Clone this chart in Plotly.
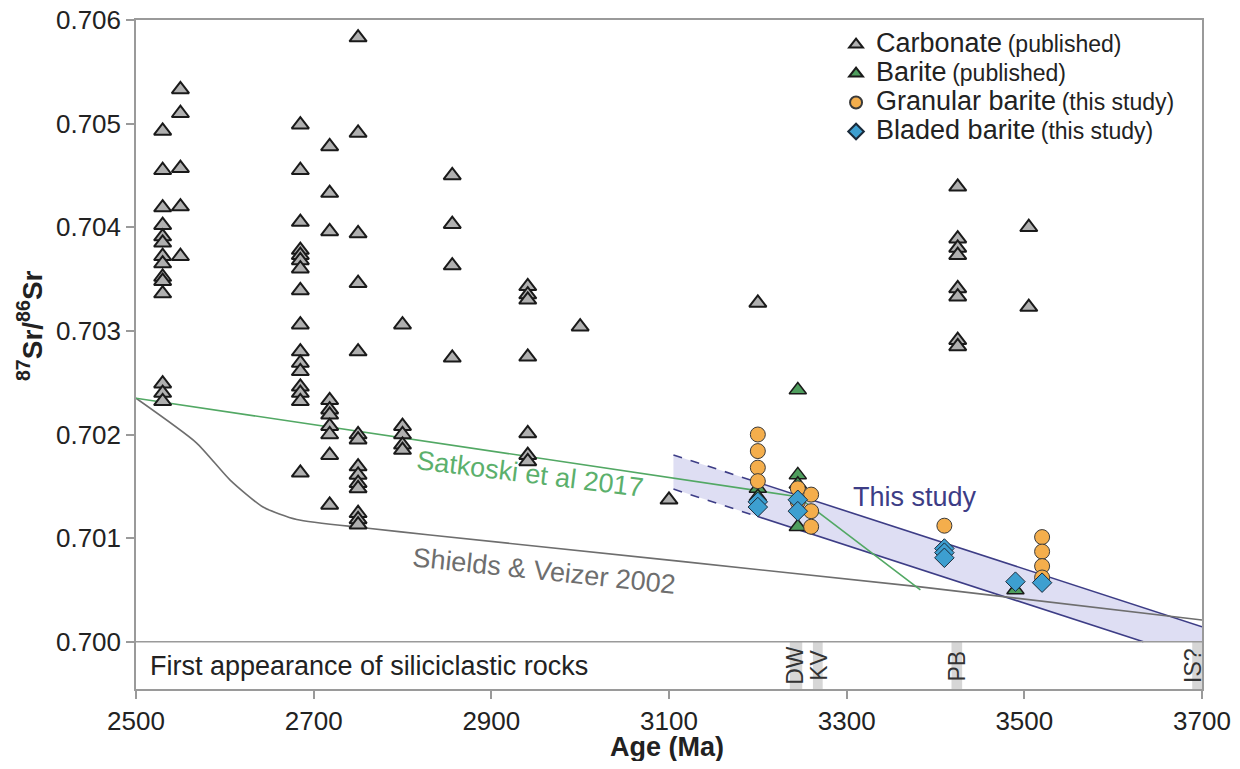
import plotly.graph_objects as go

# ---------------- data ----------------
carb_age = ([2530]*14 + [2550]*5 + [2685]*16 + [2718]*10 + [2750]*14 + [2800]*5 +
            [2856]*4 + [2941]*7 + [3000, 3100, 3200] + [3425]*8 + [3505]*2)
carb_sr = [0.70493, 0.70455, 0.70419, 0.70402, 0.70391, 0.70385, 0.70372, 0.70365, 0.70352, 0.70348, 0.70336, 0.70249, 0.70240, 0.70232,
           0.70533, 0.70510, 0.70457, 0.70420, 0.70372,
           0.70499, 0.70455, 0.70405, 0.70378, 0.70373, 0.70368, 0.70360, 0.70339, 0.70306, 0.70280, 0.70269, 0.70261, 0.70246, 0.70240, 0.70232, 0.70163,
           0.70478, 0.70433, 0.70396, 0.70233, 0.70224, 0.70219, 0.70208, 0.70200, 0.70180, 0.70132,
           0.70583, 0.70491, 0.70394, 0.70346, 0.70280, 0.70200, 0.70195, 0.70169, 0.70161, 0.70153, 0.70148, 0.70124, 0.70118, 0.70113,
           0.70306, 0.70208, 0.70200, 0.70190, 0.70185,
           0.70450, 0.70403, 0.70363, 0.70274,
           0.70343, 0.70335, 0.70330, 0.70275, 0.70201, 0.70180, 0.70174,
           0.70304, 0.70137, 0.70327,
           0.70439, 0.70389, 0.70380, 0.70373, 0.70341, 0.70333, 0.70291, 0.70285,
           0.70400, 0.70323]

barite_age = [3200, 3200, 3245, 3245, 3245, 3245, 3490]
barite_sr = [0.70148, 0.70140, 0.70243, 0.70161, 0.70152, 0.70111, 0.70050]

gran_age = [3200, 3200, 3200, 3200, 3245, 3245, 3260, 3260, 3260, 3410, 3520, 3520, 3520, 3520]
gran_sr = [0.70200, 0.70184, 0.70168, 0.70155, 0.70148, 0.70135, 0.70142, 0.70126, 0.70111, 0.70112,
           0.70101, 0.70087, 0.70073, 0.70062]

blad_age = [3200, 3200, 3245, 3245, 3410, 3410, 3410, 3490, 3520]
blad_sr = [0.70135, 0.70130, 0.70137, 0.70126, 0.70090, 0.70086, 0.70081, 0.70058, 0.70057]

# model curves
satkoski_age = [2500, 3245, 3383]
satkoski_sr = [0.70235, 0.70140, 0.70050]
shields_age = [2500, 2568, 2606, 2643, 2681, 2756, 2831, 3383, 3700]
shields_sr = [0.70235, 0.70192, 0.70156, 0.70130, 0.70118, 0.70110, 0.70103, 0.70053, 0.70021]

# "This study" band
band_upper_age = [3200, 3700]
band_upper_sr = [0.701538, 0.700145]
band_lower_age = [3200, 3634]
band_lower_sr = [0.701208, 0.700000]
dash_upper_age = [3105, 3200]
dash_upper_sr = [0.701803, 0.701538]
dash_lower_age = [3105, 3200]
dash_lower_sr = [0.701473, 0.701208]
band_poly_age = [3105, 3700, 3700, 3634, 3105]
band_poly_sr = [0.701803, 0.700145, 0.700000, 0.700000, 0.701473]

# Formation markers in bottom strip
strip_labels = ["DW", "KV", "PB", "IS?"]
strip_x0 = [3236, 3262, 3418, 3689]
strip_x1 = [3250, 3273, 3430, 3700]
strip_label_x = [3242, 3269, 3424, 3689]

y_ticks = [0.700, 0.701, 0.702, 0.703, 0.704, 0.705, 0.706]
x_ticks = [2500, 2700, 2900, 3100, 3300, 3500, 3700]

Y_MIN = 0.699544
FONT = "Liberation Sans, Arial, Helvetica, sans-serif"
AXIS_GRAY = "#9a9a9a"
TXT = "#222222"

fig = go.Figure()

# band fill
fig.add_trace(go.Scatter(x=band_poly_age, y=band_poly_sr, mode="lines", fill="toself",
                         fillcolor="rgba(208,208,238,0.7)", line=dict(width=0),
                         showlegend=False, hoverinfo="skip"))
for xa, ya, dash in [(dash_upper_age, dash_upper_sr, "dash"), (dash_lower_age, dash_lower_sr, "dash"),
                     (band_upper_age, band_upper_sr, "solid"), (band_lower_age, band_lower_sr, "solid")]:
    fig.add_trace(go.Scatter(x=xa, y=ya, mode="lines", line=dict(color="#3d3d86", width=1.6, dash=dash),
                             showlegend=False, hoverinfo="skip"))

fig.add_trace(go.Scatter(x=shields_age, y=shields_sr, mode="lines",
                         line=dict(color="#6e6e6e", width=1.6, shape="spline", smoothing=0.6),
                         showlegend=False, hoverinfo="skip"))
fig.add_trace(go.Scatter(x=satkoski_age, y=satkoski_sr, mode="lines", line=dict(color="#52a864", width=1.6),
                         showlegend=False, hoverinfo="skip"))

SMALL = "<span style='font-size:23px'>%s</span>"
BIG = "<span style='font-size:27px'>%s</span>"
fig.add_trace(go.Scatter(x=carb_age, y=carb_sr, mode="markers",
                         name=BIG % "Carbonate" + " " + SMALL % "(published)",
                         marker=dict(symbol="triangle-up", size=15, color="#b0b0b0",
                                     line=dict(color="#1a1a1a", width=2))))
fig.add_trace(go.Scatter(x=barite_age, y=barite_sr, mode="markers",
                         name=BIG % "Barite" + " " + SMALL % "(published)",
                         marker=dict(symbol="triangle-up", size=15, color="#4f9e5e",
                                     line=dict(color="#1a1a1a", width=1.5))))
fig.add_trace(go.Scatter(x=gran_age, y=gran_sr, mode="markers",
                         name=BIG % "Granular barite" + " " + SMALL % "(this study)",
                         marker=dict(symbol="circle", size=15, color="#f4ae4c",
                                     line=dict(color="#3a3a3a", width=1))))
fig.add_trace(go.Scatter(x=blad_age, y=blad_sr, mode="markers",
                         name=BIG % "Bladed barite" + " " + SMALL % "(this study)",
                         marker=dict(symbol="diamond", size=15, color="#3d9fd0",
                                     line=dict(color="#1a2a3a", width=1))))

shapes = []
for x0, x1 in zip(strip_x0, strip_x1):
    shapes.append(dict(type="rect", xref="x", yref="y", x0=x0, x1=x1, y0=Y_MIN, y1=0.700,
                       fillcolor="#d6d6d6", line=dict(width=0), layer="below"))
shapes.append(dict(type="line", xref="paper", yref="y", x0=0, x1=1, y0=0.700, y1=0.700,
                   line=dict(color=AXIS_GRAY, width=1.5)))

annotations = [
    dict(x=2944, y=0.701620, xref="x", yref="y", text="Satkoski et al 2017", showarrow=False,
         textangle=7, font=dict(size=27, color="#5bb06c", family=FONT)),
    dict(x=2959, y=0.700680, xref="x", yref="y", text="Shields &amp; Veizer 2002", showarrow=False,
         textangle=6, font=dict(size=27, color="#6e6e6e", family=FONT)),
    dict(x=3377, y=0.701400, xref="x", yref="y", text="This study", showarrow=False,
         font=dict(size=27, color="#3d3d86", family=FONT)),
    dict(x=2513, y=0.699769, xref="x", yref="y", text="First appearance of siliciclastic rocks",
         showarrow=False, xanchor="left", yanchor="middle", font=dict(size=27, color=TXT, family=FONT)),
    dict(x=-0.0994, y=0.5426, xref="paper", yref="paper", text="<b><sup>87</sup>Sr/<sup>86</sup>Sr</b>",
         showarrow=False, textangle=-90, xanchor="center", yanchor="middle",
         font=dict(size=28, color=TXT, family=FONT)),
    dict(x=0.4985, y=0, xref="paper", yref="paper", text="<b>Age (Ma)</b>", showarrow=False,
         xanchor="center", yanchor="middle", yshift=-58,
         font=dict(size=27, color=TXT, family=FONT)),
]
for lab, lx in zip(strip_labels, strip_label_x):
    annotations.append(dict(x=lx, y=0.699769, xref="x", yref="y", text=lab, showarrow=False,
                            textangle=-90, xanchor="center", yanchor="middle",
                            font=dict(size=23, color="#333333", family=FONT)))

fig.update_layout(
    width=1224, height=753,
    margin=dict(l=128, r=30, t=12, b=72, autoexpand=False),
    paper_bgcolor="white", plot_bgcolor="white",
    font=dict(family=FONT, size=26, color=TXT),
    showlegend=True,
    legend=dict(x=0.6567, y=0.9925, xanchor="left", yanchor="top", bgcolor="rgba(255,255,255,0)",
                font=dict(size=20, color=TXT, family=FONT), tracegroupgap=0, itemsizing="constant"),
    shapes=shapes, annotations=annotations,
    xaxis=dict(range=[2500, 3700], tickvals=x_ticks, ticktext=[str(v) for v in x_ticks],
               ticks="outside", ticklen=8, tickcolor=AXIS_GRAY, tickwidth=1.5,
               showline=True, linecolor=AXIS_GRAY, linewidth=1.5, mirror=True,
               showgrid=False, zeroline=False, automargin=False, ticklabeloverflow="allow",
               tickfont=dict(size=26, color=TXT)),
    yaxis=dict(range=[Y_MIN, 0.706], tickvals=y_ticks, ticktext=["%.3f" % v for v in y_ticks],
               ticks="outside", ticklen=8, tickcolor=AXIS_GRAY, tickwidth=1.5,
               showline=True, linecolor=AXIS_GRAY, linewidth=1.5, mirror=True,
               showgrid=False, zeroline=False, automargin=False, ticklabeloverflow="allow",
               tickfont=dict(size=26, color=TXT)),
)

fig.write_html("out.html")
